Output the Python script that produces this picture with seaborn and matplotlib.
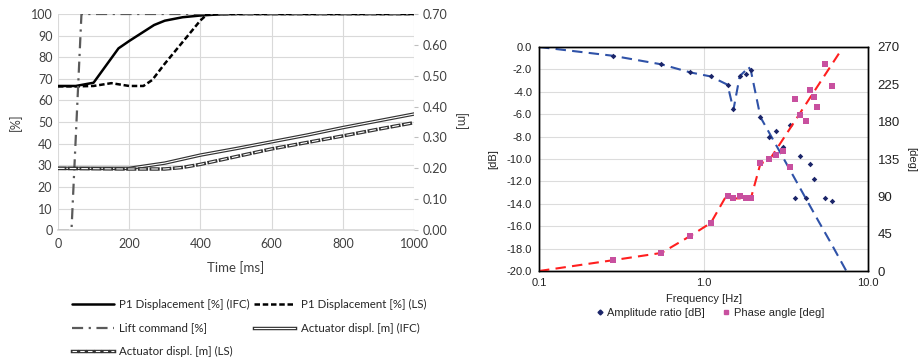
"""Recreate step-response and frequency-response figure."""
import matplotlib
matplotlib.use("Agg")
import matplotlib.pyplot as plt
import matplotlib.patheffects as pe
from matplotlib.lines import Line2D
import numpy as np
import pandas as pd
import seaborn as sns

# ---- left panel: step response ----
p1_ifc_t = [0, 50, 100, 170, 200, 270, 300, 350, 400, 450, 500, 1000]
p1_ifc = [66.7, 66.7, 68.2, 84.1, 87.5, 94.9, 96.9, 98.5, 99.3, 99.8, 100, 100]
p1_ls_t = [0, 50, 100, 150, 200, 240, 265, 300, 350, 400, 420, 1000]
p1_ls = [66.5, 66.5, 66.7, 68.0, 66.7, 66.7, 69.5, 77.0, 87.0, 97.0, 100, 100]
lift_t = [0, 38, 66, 1000]
lift = [0, 0, 100, 100]
act_ifc_t = [0, 100, 200, 300, 400, 500, 600, 700, 800, 900, 1000]
act_ifc = [0.20, 0.20, 0.20, 0.217, 0.243, 0.264, 0.286, 0.308, 0.332, 0.354, 0.376]
act_ls_t = [0, 200, 300, 350, 400, 500, 600, 700, 800, 900, 1000]
act_ls = [0.20, 0.198, 0.198, 0.203, 0.213, 0.238, 0.263, 0.284, 0.305, 0.327, 0.348]

# ---- right panel: frequency response ----
freq = [0.28, 0.555, 0.832, 1.106, 1.40, 1.52, 1.66, 1.80, 1.94, 2.22, 2.49,
        2.77, 3.04, 3.34, 3.60, 3.88, 4.17, 4.41, 4.69, 4.93, 5.50, 6.06]
amp_db = [-0.78, -1.55, -2.27, -2.63, -3.37, -5.55, -2.63, -2.39, -2.09, -6.27, -8.0,
          -7.49, -8.9, -6.96, -13.46, -9.73, -13.46, -10.48, -11.79, None, -13.5, -13.76]
phase_deg = [12.9, 21.8, 42.3, 58.0, 90.3, 87.5, 90.3, 87.5, 87.5, 129.8, 134.6,
             139.9, 145.1, 125.8, 207.2, 188.2, 180.2, 217.7, 209.2, 197.5, 249.9, 222.5]
amp_fit_f = [0.1, 0.28, 0.555, 0.832, 1.106, 1.40, 1.52, 1.66, 1.80, 1.87, 1.94,
             2.22, 3.0, 4.0, 5.0, 6.0, 7.38]
amp_fit = [0.0, -0.78, -1.55, -2.27, -2.63, -3.37, -5.6, -2.6, -2.1, -1.75, -2.1,
           -6.27, -9.7, -13.0, -15.55, -17.6, -20.0]
phase_fit_f = [0.1, 0.279, 0.555, 0.832, 1.108, 1.37, 1.52, 1.80, 1.94, 2.22, 2.50, 6.73]
phase_fit = [0.0, 12.9, 21.8, 42.3, 58.0, 90.0, 87.5, 87.5, 87.5, 129.8, 133.0, 263.6]

sns.set_theme(style="white")
plt.rcParams["font.family"] = ["Liberation Sans", "DejaVu Sans"]

fig = plt.figure(figsize=(9.2, 3.59), dpi=100)

# ======== left chart ========
LFONT = ["Lato", "DejaVu Sans"]
ax = fig.add_axes([0.063, 0.359, 0.387, 0.602])
axr = ax.twinx()
dbl = [pe.Stroke(linewidth=2.5, foreground="#333333", capstyle="projecting"), pe.Normal()]
LS_DASH = (0, (2.2, 1.1))
ACT_DASH = (0, (6, 4.5))
LIFT_DASH = (0, (5, 2.5, 1, 2.5))

sns.lineplot(x=p1_ifc_t, y=p1_ifc, ax=ax, color="black", lw=1.8, estimator=None)
sns.lineplot(x=p1_ls_t, y=p1_ls, ax=ax, color="black", lw=1.8, estimator=None,
             linestyle=LS_DASH)
sns.lineplot(x=lift_t, y=lift, ax=ax, color="#5a5a5a", lw=1.6, estimator=None,
             linestyle=LIFT_DASH)
sns.lineplot(x=act_ifc_t, y=act_ifc, ax=axr, color="white", lw=0.8, estimator=None,
             path_effects=dbl)
sns.lineplot(x=act_ls_t, y=act_ls, ax=axr, color="white", lw=0.8, estimator=None,
             linestyle=ACT_DASH, path_effects=dbl)

ax.set_xlim(0, 1000)
ax.set_ylim(0, 100)
axr.set_ylim(0, 0.70)
ax.set_xticks(np.arange(0, 1001, 200))
ax.set_yticks(np.arange(0, 101, 10))
axr.set_yticks(np.arange(0, 0.71, 0.1))
axr.set_yticklabels([f"{v:.2f}" for v in np.arange(0, 0.71, 0.1)])
ax.grid(True, color="#d9d9d9", lw=0.8)
axr.grid(False)
for a in (ax, axr):
    for s in a.spines.values():
        s.set_visible(False)
    a.tick_params(length=0, labelsize=9, colors="#404040", pad=4)
    for lab in a.get_xticklabels() + a.get_yticklabels():
        lab.set_family(LFONT)
ax.tick_params(axis="x", pad=6)
axr.tick_params(axis="y", length=3, width=0.8, color="#bfbfbf", pad=3)
ax.spines["bottom"].set_visible(True)
ax.spines["bottom"].set_color("#d9d9d9")
ax.set_xlabel("Time [ms]", family=LFONT, fontsize=9.5, color="#404040", labelpad=8)
ax.set_ylabel("[%]", family=LFONT, fontsize=9, color="#404040", labelpad=6)
axr.set_ylabel("[m]", family=LFONT, fontsize=9, color="#404040", rotation=-90, labelpad=14)

handles = [
    Line2D([], [], color="black", lw=1.8),
    Line2D([], [], color="#5a5a5a", lw=1.6, linestyle=LIFT_DASH),
    Line2D([], [], color="white", lw=0.8, linestyle=(0, (4, 3)), path_effects=dbl),
    Line2D([], [], color="black", lw=1.8, linestyle=LS_DASH),
    Line2D([], [], color="white", lw=0.8, path_effects=dbl),
]
labels = ["P1 Displacement [%] (IFC)", "Lift command [%]", "Actuator displ. [m] (LS)",
          "P1 Displacement [%] (LS)", "Actuator displ. [m] (IFC)"]
fig.legend(handles, labels, ncol=2, loc="upper left", bbox_to_anchor=(0.072, 0.183),
           frameon=False, prop={"family": LFONT, "size": 8.3}, handlelength=3.6,
           handletextpad=0.5, columnspacing=0.35, labelspacing=1.08, borderpad=0)

# ======== right chart ========
bx = fig.add_axes([0.5859, 0.2451, 0.3576, 0.624])
bxr = bx.twinx()
freq_df = pd.DataFrame({"freq": freq, "amp": amp_db, "phase": phase_deg})

sns.lineplot(x=amp_fit_f, y=amp_fit, ax=bx, color="#2f52a8", lw=1.5, estimator=None,
             sort=False, linestyle=(0, (5, 3)))
sns.scatterplot(data=freq_df, x="freq", y="amp", ax=bx, color="#1b2569", marker="D",
                s=8, linewidth=0, zorder=3)
sns.lineplot(x=phase_fit_f, y=phase_fit, ax=bxr, color="#ff1f1f", lw=1.5, estimator=None,
             sort=False, linestyle=(0, (5, 3)))
sns.scatterplot(data=freq_df, x="freq", y="phase", ax=bxr, color="#c8509f", marker="s",
                s=14, linewidth=0, zorder=3)

bx.set_xscale("log")
bx.set_xlim(0.1, 10)
bx.set_ylim(-20, 0)
bxr.set_ylim(0, 270)
bx.set_xticks([0.1, 1, 10])
bx.set_xticklabels(["0.1", "1.0", "10.0"])
bx.xaxis.set_minor_locator(matplotlib.ticker.NullLocator())
bx.set_yticks(np.arange(-20, 0.1, 2))
bx.set_yticklabels([f"{v:.1f}" for v in np.arange(-20, 0.1, 2)])
bxr.set_yticks(np.arange(0, 271, 45))
bx.grid(True, color="#dcdcdc", lw=0.8)
bxr.grid(False)
for a in (bx, bxr):
    for s in a.spines.values():
        s.set_color("black")
        s.set_linewidth(1.0)
    a.tick_params(length=0, labelsize=8, colors="#222222", pad=5)
bxr.tick_params(labelsize=9.5, pad=7)
bx.set_xlabel("Frequency [Hz]", fontsize=8, color="#222222", labelpad=4)
bx.set_ylabel("[dB]", fontsize=8, color="#222222", labelpad=6)
bxr.set_ylabel("[deg]", fontsize=8, color="#222222", rotation=-90, labelpad=12)

rh = [Line2D([], [], color="#1b2569", marker="D", markersize=2.5, lw=0),
      Line2D([], [], color="#c8509f", marker="s", markersize=3.5, lw=0)]
fig.legend(rh, ["Amplitude ratio [dB]", "Phase angle [deg]"], ncol=2, loc="center",
           bbox_to_anchor=(0.772, 0.128), frameon=False, fontsize=8, handlelength=0.6,
           handletextpad=0.4, columnspacing=1.6)

fig.savefig("out.png", dpi=100, facecolor="white")
